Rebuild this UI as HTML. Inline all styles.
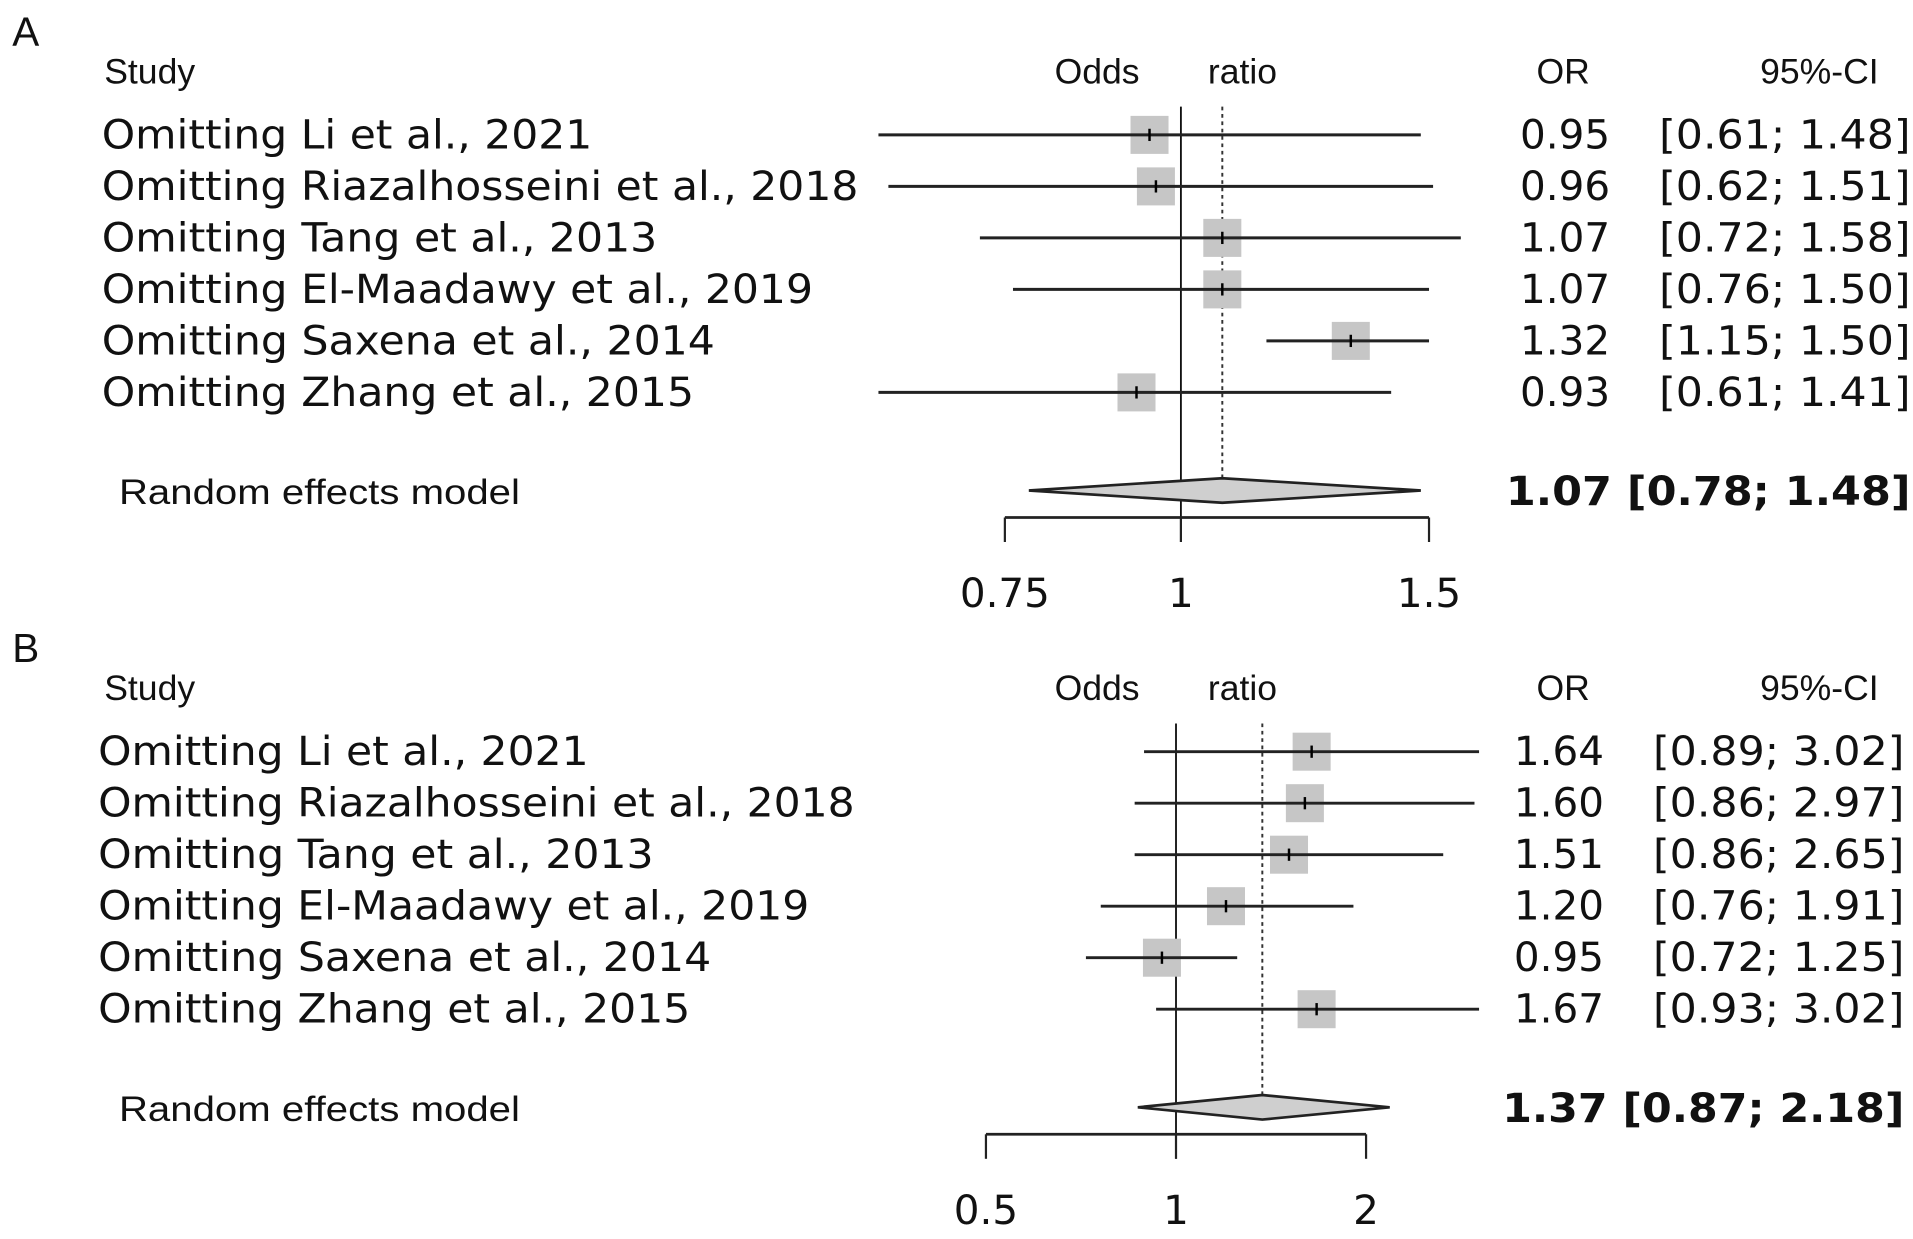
<!DOCTYPE html>
<html><head><meta charset="utf-8"><style>
html,body{margin:0;padding:0;background:#fff;}
svg{display:block;}
.dv{font-family:"DejaVu Sans","Liberation Sans",sans-serif;fill:#111;}
.ls{font-family:"Liberation Sans",sans-serif;fill:#111;}
</style></head><body>
<svg id="chart" width="1913" height="1239" viewBox="0 0 1560 1010.4" preserveAspectRatio="none" xmlns="http://www.w3.org/2000/svg"></svg>
<script>
const studies = ["Omitting Li et al., 2021","Omitting Riazalhosseini et al., 2018","Omitting Tang et al., 2013","Omitting El-Maadawy et al., 2019","Omitting Saxena et al., 2014","Omitting Zhang et al., 2015"];
const orA = [0.95,0.96,1.07,1.07,1.32,0.93];
const loA = [0.61,0.62,0.72,0.76,1.15,0.61];
const hiA = [1.48,1.51,1.58,1.50,1.50,1.41];
const pooledA = [1.07,0.78,1.48];
const ticksA = [0.75,1,1.5];
const tickLabelsA = ["0.75","1","1.5"];
const orB = [1.64,1.60,1.51,1.20,0.95,1.67];
const loB = [0.89,0.86,0.86,0.76,0.72,0.93];
const hiB = [3.02,2.97,2.65,1.91,1.25,3.02];
const pooledB = [1.37,0.87,2.18];
const ticksB = [0.5,1,2];
const tickLabelsB = ["0.5","1","2"];

const NS="http://www.w3.org/2000/svg";
const svg=document.getElementById('chart');
function mk(tag,attrs,parent){const e=document.createElementNS(NS,tag);for(const k in attrs)e.setAttribute(k,attrs[k]);(parent||svg).appendChild(e);return e;}
function txt(s,attrs,parent){const e=mk('text',attrs,parent);e.textContent=s;return e;}
const nameLens=[400,617,453,580,500,483];
const f2=v=>v.toFixed(2);

function panel(o){
  const g=mk('g',{});
  
  
  const x=v=>o.x1+o.k*Math.log(v);
  const y0=o.top;
  let t=txt(o.letter,{x:10,y:y0-20,class:'ls','font-size':33},g);
  
  t=txt('Study',{x:85,y:y0+11,class:'ls','font-size':29},g);
  
  t=txt('Odds',{x:860,y:y0+11,class:'ls','font-size':29},g);
  
  t=txt('ratio',{x:985,y:y0+11,class:'ls','font-size':29},g);
  
  t=txt('OR',{x:1253,y:y0+11,class:'ls','font-size':29},g);
  
  t=txt('95%-CI',{x:1532,y:y0+11,class:'ls','font-size':29,'text-anchor':'end'},g);
  
  const rowY=i=>y0+53+i*42;
  const yRe=y0+343, yAx=y0+365;
  let l=mk('line',{x1:x(1),x2:x(1),y1:y0+30,y2:yAx+20,stroke:'#111','stroke-width':1.5},g);
  
  l=mk('line',{x1:x(o.pooled[0]),x2:x(o.pooled[0]),y1:y0+30,y2:yRe-10,stroke:'#333','stroke-width':1.6,'stroke-dasharray':'3,3'},g);
  
  studies.forEach((s,i)=>{
    const yy=rowY(i);
    let n=txt(s,{x:o.nameX,y:yy+11,class:'dv','font-size':33,textLength:nameLens[i],lengthAdjust:'spacingAndGlyphs'},g);
    
    let sq=mk('rect',{x:x(o.or[i])-15.5,y:yy-15.5,width:31,height:31,fill:'#c6c6c6'},g);
    
    let ci=mk('line',{x1:x(o.lo[i]),x2:x(o.hi[i]),y1:yy,y2:yy,stroke:'#222','stroke-width':2.4},g);
    
    let pt=mk('line',{x1:x(o.or[i]),x2:x(o.or[i]),y1:yy-5,y2:yy+5,stroke:'#000','stroke-width':2},g);
    
    let v=txt(f2(o.or[i]),{x:o.orX,y:yy+11,class:'dv','font-size':33,'text-anchor':'end'},g);
    
    let c=txt('['+f2(o.lo[i])+'; '+f2(o.hi[i])+']',{x:o.ciX,y:yy+11,class:'dv','font-size':33,'text-anchor':'end',textLength:205,lengthAdjust:'spacingAndGlyphs'},g);
    
  });
  t=txt('Random effects model',{x:97,y:yRe+11,class:'ls','font-size':29,textLength:327,lengthAdjust:'spacingAndGlyphs'},g);
  
  const p=o.pooled;
  let d=mk('polygon',{points:`${x(p[1])},${yRe} ${x(p[0])},${yRe-10} ${x(p[2])},${yRe} ${x(p[0])},${yRe+10}`,fill:'#cfcfcf',stroke:'#222','stroke-width':2.2},g);
  
  t=txt(f2(p[0])+' ['+f2(p[1])+'; '+f2(p[2])+']',{x:o.ciX,y:yRe+12,class:'dv','font-size':33,'font-weight':'bold','text-anchor':'end',textLength:o.ciX-o.boldX,lengthAdjust:'spacingAndGlyphs'},g);
  
  const tk=o.ticks;
  l=mk('line',{x1:x(tk[0]),x2:x(tk[tk.length-1]),y1:yAx,y2:yAx,stroke:'#222','stroke-width':2.2},g);
  
  tk.forEach((v,i)=>{
    let tl=mk('line',{x1:x(v),x2:x(v),y1:yAx,y2:yAx+20,stroke:'#222','stroke-width':1.8},g);
    
    let lb=txt(o.tickLabels[i],{x:x(v),y:yAx+73,class:'dv','font-size':33,'text-anchor':'middle'},g);
    
  });
}
panel({letter:'A',top:57,x1:963,k:499,nameX:83,orX:1313,ciX:1558,boldX:1228,or:orA,lo:loA,hi:hiA,pooled:pooledA,ticks:ticksA,tickLabels:tickLabelsA});
panel({letter:'B',top:560,x1:959,k:223.6,nameX:80,orX:1308,ciX:1553,boldX:1225,or:orB,lo:loB,hi:hiB,pooled:pooledB,ticks:ticksB,tickLabels:tickLabelsB});
</script>
</body></html>
